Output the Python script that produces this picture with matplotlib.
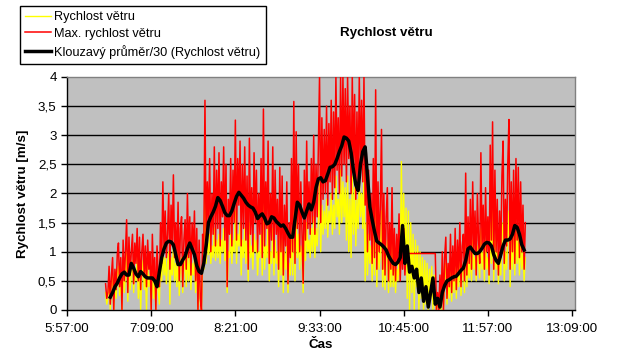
import matplotlib
matplotlib.use("Agg")
import matplotlib.pyplot as plt
import numpy as np
from matplotlib.ticker import FixedLocator, FixedFormatter

plt.rcParams['font.family'] = ['Liberation Sans', 'DejaVu Sans']

# ---- data ----
start_time = "6:30"        # first sample of the raw series
step_minutes = 1           # raw series sampling
ma_start_time = "6:30"     # moving-average series
ma_step_minutes = 2

speed = [
    0.3, 0.1, 0.2, 0.5, 0.0, 0.4, 0.6, 0.0, 0.45, 0.2, 0.6, 0.75,
    0.25, 0.55, 0.0, 0.8, 0.3, 0.6, 1.0, 0.15, 0.8, 0.35, 0.6, 0.85,
    0.3, 0.7, 0.5, 0.9, 0.2, 0.8, 0.0, 0.6, 0.85, 0.35, 0.7, 0.0,
    0.75, 0.4, 0.6, 0.0, 0.8, 0.2, 0.5, 0.0, 0.7, 0.35, 0.1, 0.9,
    0.5, 1.1, 0.6, 0.9, 0.45, 0.8, 1.0, 0.1, 0.9, 0.6, 1.1, 0.5,
    0.8, 0.4, 1.0, 0.25, 0.8, 0.9, 0.3, 0.7, 0.9, 0.4, 1.0, 0.5,
    0.9, 0.35, 0.8, 0.6, 0.9, 0.3, 0.8, 0.0, 0.7, 0.1, 0.0, 0.8,
    0.7, 2.1, 0.8, 1.2, 0.95, 1.3, 0.8, 1.1, 0.9, 1.4, 0.85, 1.2,
    0.9, 1.3, 0.8, 1.2, 1.0, 1.4, 0.85, 1.2, 0.3, 1.0, 0.9, 1.3,
    0.8, 1.2, 1.0, 1.7, 0.8, 1.3, 1.1, 1.5, 0.6, 1.2, 0.9, 1.4,
    0.8, 1.2, 0.5, 1.5, 0.9, 1.1, 0.7, 1.3, 1.0, 1.2, 0.6, 1.0,
    0.9, 1.3, 0.6, 1.8, 0.7, 1.1, 0.9, 1.5, 0.5, 1.0, 0.8, 1.4,
    0.6, 1.2, 0.8, 1.0, 0.4, 1.3, 0.6, 1.2, 0.3, 1.0, 0.7, 1.1,
    0.3, 0.8, 0.6, 1.4, 0.6, 2.0, 0.5, 1.6, 0.9, 1.3, 0.7, 1.1,
    0.9, 0.3, 1.3, 0.85, 1.5, 1.0, 1.2, 0.9, 1.4, 1.0, 1.6, 0.9,
    1.4, 1.1, 1.5, 2.2, 1.0, 1.8, 1.3, 1.7, 1.4, 1.9, 1.25, 1.7,
    1.5, 2.0, 1.3, 1.8, 1.4, 2.3, 1.6, 1.9, 1.3, 2.4, 1.5, 2.2,
    1.6, 2.1, 1.2, 2.3, 1.0, 1.9, 0.9, 2.3, 1.3, 2.1, 1.1, 1.9,
    1.4, 2.3, 1.6, 2.0, 1.4, 2.4, 0.5, 1.5, 0.6, 1.3, 0.8, 1.1,
    0.5, 1.4, 0.6, 2.2, 0.4, 1.2, 0.7, 1.0, 1.7, 0.4, 1.1, 0.35,
    0.9, 1.2, 0.3, 0.9, 0.4, 1.2, 0.4, 0.8, 0.3, 0.7, 0.5, 0.9,
    0.6, 2.55, 0.8, 2.0, 0.7, 1.75, 0.2, 1.7, 0.0, 1.5, 0.3, 1.3,
    0.0, 1.2, 0.4, 1.1, 0.0, 1.0, 0.2, 0.9, 0.0, 0.85, 0.1, 0.8,
    0.0, 0.7, 0.2, 0.75, 0.0, 0.6, 0.1, 0.0, 0.2, 0.0, 0.5, 0.0,
    0.6, 0.0, 0.55, 0.8, 0.1, 0.5, 0.2, 0.8, 0.15, 0.7, 0.3, 0.9,
    0.2, 0.7, 0.4, 0.9, 0.25, 0.6, 0.8, 0.3, 1.3, 0.4, 0.9, 0.55,
    1.0, 0.5, 1.2, 0.7, 0.9, 0.5, 1.1, 0.8, 0.55, 1.4, 0.7, 1.0,
    0.5, 1.2, 0.7, 0.9, 0.45, 1.5, 0.8, 1.7, 0.5, 1.3, 0.7, 1.0,
    0.45, 0.9, 0.6, 1.3, 1.5, 0.5, 1.0, 0.7, 1.3, 1.7, 0.4, 1.2,
    0.7, 1.3, 0.6, 1.4, 0.8, 1.3, 0.6, 1.2, 0.7, 1.0, 0.5, 0.9,
]

max_speed = [
    0.45, 0.2, 0.3, 0.75, 0.1, 0.6, 0.9, 0.0, 0.7, 0.35, 0.95, 1.15,
    0.4, 0.9, 0.0, 1.2, 0.5, 1.0, 1.55, 0.3, 1.25, 0.6, 1.0, 1.3,
    0.45, 1.15, 0.8, 1.4, 0.5, 1.25, 0.35, 1.0, 1.3, 0.6, 1.1, 0.4,
    1.2, 0.7, 1.0, 0.0, 1.3, 0.5, 0.9, 0.0, 1.1, 0.6, 0.4, 1.5,
    0.8, 2.2, 1.0, 1.7, 0.9, 1.3, 2.0, 0.7, 1.8, 1.1, 2.32, 0.9,
    1.5, 0.8, 1.85, 0.5, 1.4, 1.6, 0.4, 1.2, 1.55, 0.7, 2.0, 0.9,
    1.6, 0.6, 1.5, 1.0, 1.7, 0.5, 1.4, 0.0, 1.2, 0.2, 0.0, 1.3,
    1.0, 3.6, 1.1, 2.2, 1.5, 2.6, 1.0, 2.0, 1.3, 2.8, 1.1, 2.4,
    1.4, 2.7, 1.1, 2.2, 1.6, 2.8, 1.2, 2.5, 0.4, 1.9, 1.3, 2.6,
    1.1, 2.4, 1.5, 3.26, 1.2, 2.6, 1.8, 2.9, 1.1, 2.5, 1.4, 2.8,
    1.2, 2.3, 0.7, 2.95, 1.3, 2.1, 1.0, 2.7, 1.5, 2.4, 1.0, 2.0,
    1.3, 2.6, 0.9, 3.45, 1.1, 2.2, 1.4, 2.9, 0.8, 2.0, 1.2, 2.8,
    0.9, 2.4, 1.3, 1.9, 0.7, 2.45, 1.0, 2.3, 0.6, 1.8, 1.1, 2.2,
    0.45, 1.5, 0.9, 2.6, 1.0, 3.58, 0.8, 3.06, 1.4, 2.5, 1.0, 2.2,
    1.3, 0.46, 2.4, 1.2, 2.9, 1.4, 2.2, 1.3, 2.6, 1.5, 3.0, 1.3,
    2.5, 1.6, 2.8, 4.0, 1.5, 3.3, 1.9, 3.1, 2.0, 3.5, 1.8, 3.2,
    2.2, 3.6, 1.9, 3.4, 2.1, 4.0, 2.4, 3.3, 2.0, 4.0, 2.3, 4.0,
    2.5, 3.8, 2.2, 4.0, 2.6, 3.5, 2.0, 4.0, 2.4, 3.7, 1.9, 3.4,
    2.1, 4.0, 2.4, 3.6, 2.2, 4.0, 1.8, 2.7, 1.0, 2.4, 1.2, 2.0,
    0.8, 2.6, 0.9, 3.78, 0.7, 2.2, 1.0, 1.8, 3.1, 0.7, 2.0, 0.6,
    1.6, 2.1, 0.5, 1.5, 0.7, 2.1, 0.6, 1.4, 0.5, 1.3, 0.8, 1.65,
    0.5, 1.2, 0.7, 1.4, 0.6, 1.0, 0.97, 0.97, 0.97, 0.97, 0.97, 0.97,
    0.97, 0.97, 0.97, 0.97, 0.97, 0.97, 0.97, 0.97, 0.97, 0.97, 0.97, 0.97,
    0.97, 0.97, 0.97, 0.97, 0.97, 0.97, 0.97, 0.0, 0.3, 0.0, 0.6, 0.1,
    1.0, 0.0, 0.9, 1.25, 0.2, 0.8, 0.4, 1.3, 0.3, 1.1, 0.5, 1.4,
    0.35, 1.2, 0.6, 1.5, 0.4, 1.1, 1.3, 0.5, 2.35, 0.6, 1.6, 0.8,
    1.9, 0.7, 2.2, 1.0, 1.7, 0.6, 2.0, 1.2, 0.8, 2.7, 1.1, 1.8,
    0.7, 2.1, 1.0, 1.6, 0.6, 2.83, 1.2, 3.23, 0.7, 2.4, 1.0, 1.9,
    0.6, 1.7, 0.9, 2.3, 2.9, 0.8, 1.9, 1.1, 2.5, 3.27, 0.7, 2.2,
    1.0, 2.4, 0.8, 2.6, 1.2, 2.45, 0.9, 2.2, 1.0, 1.8, 0.7, 1.5,
]

moving_avg = [
    np.nan, np.nan, 0.22, 0.3, 0.4, 0.46, 0.55, 0.62, 0.65, 0.6,
    0.6, 0.8, 0.72, 0.62, 0.57, 0.66, 0.62, 0.57, 0.55, 0.55,
    0.55, 0.5, 0.4, 0.65, 0.9, 1.05, 1.15, 1.18, 1.17, 1.12,
    0.95, 0.78, 0.78, 0.86, 0.92, 1.05, 1.15, 1.05, 0.95, 0.76,
    0.66, 0.63, 0.8, 1.1, 1.5, 1.6, 1.68, 1.78, 1.93, 1.88,
    1.78, 1.67, 1.62, 1.62, 1.7, 1.83, 1.95, 2.02, 1.97, 1.92,
    1.85, 1.8, 1.77, 1.75, 1.68, 1.57, 1.62, 1.65, 1.58, 1.48,
    1.5, 1.6, 1.58, 1.52, 1.48, 1.44, 1.46, 1.4, 1.32, 1.25,
    1.25, 1.55, 1.85, 1.8, 1.68, 1.58, 1.7, 1.82, 1.72, 1.85,
    2.1, 2.25, 2.27, 2.2, 2.22, 2.33, 2.45, 2.46, 2.5, 2.6,
    2.72, 2.82, 2.97, 2.95, 2.9, 2.7, 2.4, 2.15, 2.05, 2.5,
    2.72, 2.8, 2.3, 1.77, 1.55, 1.35, 1.18, 1.15, 1.12, 1.08,
    1.03, 0.93, 0.86, 0.8, 0.78, 0.82, 0.9, 1.45, 0.8, 1.1,
    0.65, 0.75, 0.55, 0.7, 0.3, 0.55, 0.15, 0.4, 0.05, 0.3,
    0.55, 0.1, 0.2, 0.05, 0.3, 0.42, 0.5, 0.52, 0.55, 0.57,
    0.58, 0.63, 0.68, 0.72, 0.85, 1.05, 1.08, 1.02, 0.97, 0.97,
    1.0, 1.06, 1.13, 1.16, 1.15, 1.1, 0.95, 0.85, 0.8, 0.95,
    1.1, 1.2, 1.2, 1.22, 1.3, 1.45, 1.42, 1.3, 1.12, 1.03,
]

x_tick_labels = ["5:57:00", "7:09:00", "8:21:00", "9:33:00",
                 "10:45:00", "11:57:00", "13:09:00"]
y_ticks = [0, 0.5, 1, 1.5, 2, 2.5, 3, 3.5, 4]

series_labels = ["Rychlost větru", "Max. rychlost větru",
                 "Klouzavý průměr/30 (Rychlost větru)"]


def to_minutes(s):
    parts = s.split(":")
    return int(parts[0]) * 60 + int(parts[1])


t = to_minutes(start_time) + step_minutes * np.arange(len(speed))
t_ma = to_minutes(ma_start_time) + ma_step_minutes * np.arange(len(moving_avg))
tick_pos = [to_minutes(s) for s in x_tick_labels]

W, H = 631, 360
fig = plt.figure(figsize=(W / 100, H / 100), dpi=100)
fig.patch.set_facecolor('white')
ax = fig.add_axes([67 / W, 50 / H, 508 / W, 233 / H])
ax.set_facecolor('#C0C0C0')

for y in y_ticks[1:-1]:
    ax.axhline(y, color='black', lw=1.0, zorder=1)

l1, = ax.plot(t, speed, color='#FFFF00', lw=1.0, zorder=2, label=series_labels[0])
l2, = ax.plot(t, max_speed, color='#FF0000', lw=1.1, zorder=3, label=series_labels[1])
l3, = ax.plot(t_ma, moving_avg, color='black', lw=2.5, zorder=4, label=series_labels[2])

ax.set_ylim(0, 4)
ax.set_xlim(tick_pos[0], tick_pos[-1] + 2.5)

ax.yaxis.set_major_locator(FixedLocator(y_ticks))
ax.yaxis.set_major_formatter(FixedFormatter([f"{v:g}".replace('.', ',') for v in y_ticks]))
ax.xaxis.set_major_locator(FixedLocator(tick_pos))
ax.xaxis.set_major_formatter(FixedFormatter(x_tick_labels))
ax.tick_params(axis='both', direction='out', length=4.5, width=1, color='black',
               labelsize=9.6)
ax.tick_params(axis='x', pad=5)
ax.tick_params(axis='y', pad=3)

for side in ['left', 'bottom']:
    ax.spines[side].set_color('black')
    ax.spines[side].set_linewidth(1)
for side in ['top', 'right']:
    ax.spines[side].set_color('#808080')
    ax.spines[side].set_linewidth(1)

ax.set_ylabel("Rychlost větru [m/s]", fontsize=9.6, fontweight='bold', labelpad=6)
ax.set_xlabel("Čas", fontsize=9.6, fontweight='bold', labelpad=3)

fig.text(386 / W, 1 - 33 / H, "Rychlost větru", fontsize=9.6, fontweight='bold',
         ha='center', va='center')

leg = fig.legend(handles=[l1, l2, l3], loc='upper left',
                 bbox_to_anchor=(20 / W, 1 - 6 / H), fontsize=9.2,
                 frameon=True, fancybox=False, framealpha=1, edgecolor='black',
                 borderpad=0.4, labelspacing=0.38, handlelength=2.0,
                 handletextpad=0.3, borderaxespad=0)
leg.get_frame().set_linewidth(1)

fig.savefig("out.png", dpi=100)
